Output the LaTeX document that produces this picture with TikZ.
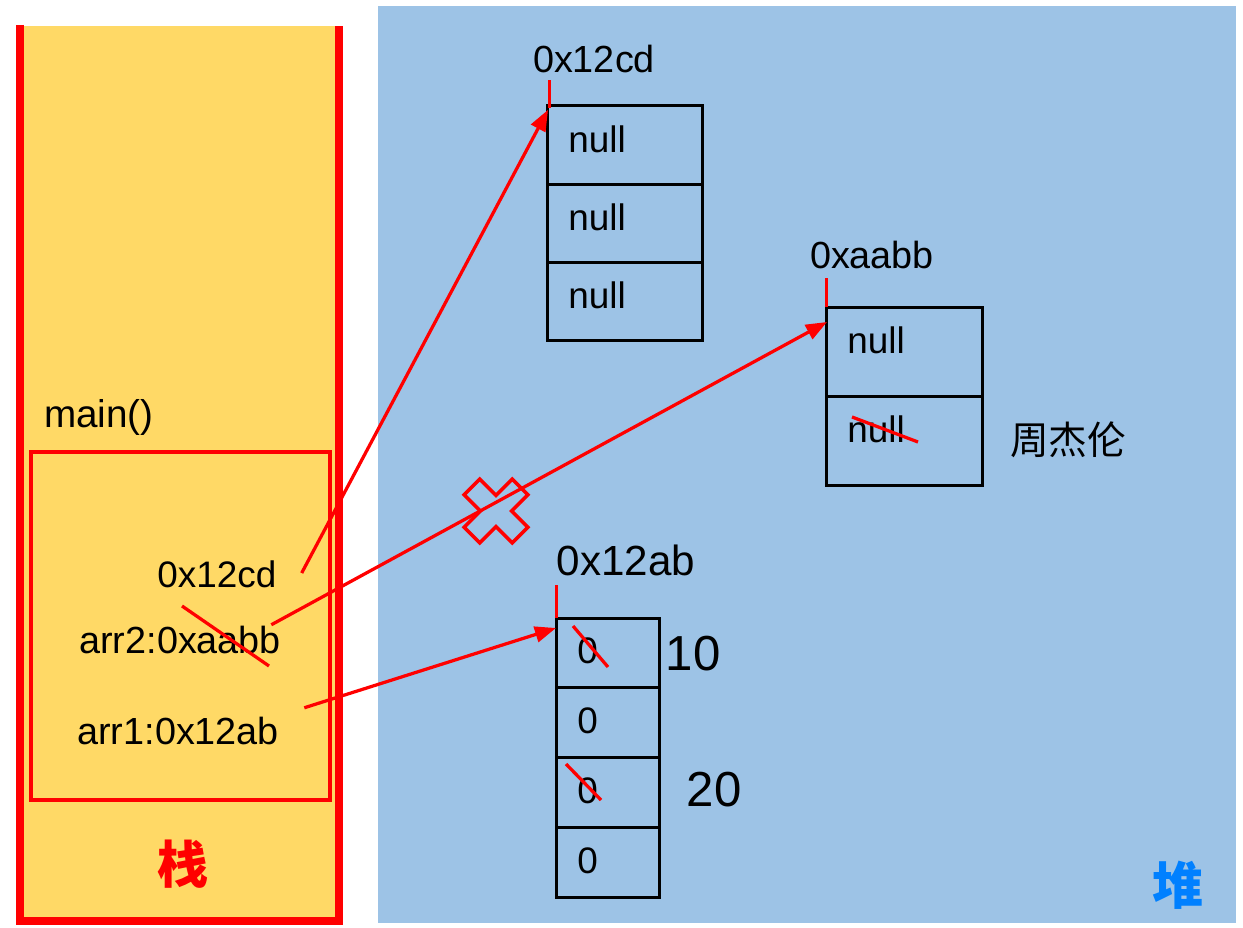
\documentclass[tikz,border=0pt]{standalone}
\usepackage{fontspec}
\setmainfont{Liberation Sans}
\newfontfamily\cjk{Noto Sans CJK SC}
\usepackage{xcolor}
\usepackage{tikz}
\usetikzlibrary{positioning, calc, arrows.meta}
\definecolor{stackyellow}{RGB}{255,217,102}
\definecolor{heapblue}{RGB}{157,195,230}
\definecolor{heaptext}{RGB}{0,128,255}

\begin{document}
\begin{tikzpicture}[x=0.02cm, y=-0.02cm, >={Triangle[length=12pt,width=9pt]},
  txt/.style={inner sep=0pt, font=\fontsize{21}{25}\selectfont},
  cell/.style 2 args={draw=black, line width=0.06cm, minimum width=#1, minimum height=#2, inner sep=0pt, outer sep=0pt},
  ptr/.style={->, red, line width=0.065cm},
  strike/.style={red, line width=0.065cm},
  tick/.style={red, line width=0.06cm}]
  \useasboundingbox (0,0) rectangle (1243,928);
  % Stack and heap areas
  \fill[stackyellow] (24,26) rectangle (335,918);
  \draw[red, line width=0.16cm] (20,25) -- (20,921) -- (339,921) -- (339,26);
  \fill[heapblue] (378,6) rectangle (1236,923);
  \draw[red, line width=0.07cm] (31,452) rectangle (330,800);
  % Stack frame
  \node[txt, font=\fontsize{22}{26}\selectfont] (main) at (99,417) {main()};
  \node[txt, anchor=west] (cd) at (157,574) {0x12cd};
  \node[txt, font=\fontsize{21.5}{26}\selectfont, anchor=west] (arr2) at (79,640) {arr2:0xaabb};
  \node[txt, font=\fontsize{21.5}{26}\selectfont, anchor=west] (arr1) at (77,731) {arr1:0x12ab};
  \node[font=\cjk\bfseries\fontsize{29}{32}\selectfont, text=red] (stack) at (183,864) {栈};
  % Heap arrays
  \node[cell={3.12cm}{1.567cm}] (a1) at (625,145) {};
  \node[cell={3.12cm}{1.567cm}, below=0pt of a1] (a2) {};
  \node[cell={3.12cm}{1.567cm}, below=0pt of a2] (a3) {};
  \node[cell={3.12cm}{1.79cm}] (b1) at (904,351.75) {};
  \node[cell={3.12cm}{1.79cm}, below=0pt of b1] (b2) {};
  \node[cell={2.06cm}{1.4cm}] (c1) at (607.5,653) {};
  \node[cell={2.06cm}{1.4cm}, below=0pt of c1] (c2) {};
  \node[cell={2.06cm}{1.4cm}, below=0pt of c2] (c3) {};
  \node[cell={2.06cm}{1.4cm}, below=0pt of c3] (c4) {};
  \foreach \c in {a1,a2,a3,b1,b2}
    \node[txt, anchor=west] (\c-val) at ($(\c.north west)+(21,33)$) {null};
  \foreach \c in {c1,c2,c3,c4}
    \node[txt, anchor=west] (\c-val) at ($(\c.north west)+(21,33)$) {0};
  % Addresses
  \node[txt, font=\fontsize{21.5}{25}\selectfont] (addrA) at (594,59) {0x12cd};
  \node[txt, font=\fontsize{21.5}{25}\selectfont] (addrB) at (872,255) {0xaabb};
  \node[txt, font=\fontsize{24}{28}\selectfont] (addrC) at (626,560) {0x12ab};
  \draw[tick] ($(a1.north west)+(2,2)$) -- ++(0,-28);
  \draw[tick] (b1.north west) -- ++(0,-29);
  \draw[tick] (c1.north west) -- ++(0,-33);
  % New values
  \node[txt, font=\fontsize{28}{32}\selectfont] (v10) at (693,654) {10};
  \node[txt, font=\fontsize{28}{32}\selectfont] (v20) at (714,790) {20};
  \node[txt, font=\cjk\fontsize{22}{26}\selectfont] (name) at (1068,440) {周杰伦};
  \node[font=\cjk\bfseries\fontsize{29}{32}\selectfont, text=heaptext] (heap) at (1178,885) {堆};
  % Crossed-out values
  \draw[strike] (182,606) -- (269,666);
  \draw[strike] (852,417) -- (918,442);
  \draw[strike] (573,626) -- (608,667);
  \draw[strike] (566,764) -- (601,800);
  % Cross mark
  \draw[red, line width=0.07cm, shift={(496,511)}, rotate=45]
    (11,34) -- (11,11) -- (34,11) -- (34,-11) -- (11,-11) -- (11,-34) -- (-11,-34)
    -- (-11,-11) -- (-34,-11) -- (-34,11) -- (-11,11) -- (-11,34) -- cycle;
  % References
  \draw[ptr] ($(cd.east)+(25,-1)$) -- ($(a1.north west)+(1,4)$);
  \draw[ptr] ($(arr2.north east)+(-10,-1)$) -- ($(b1.north west)+(1,15)$);
  \draw[ptr] ($(arr1.north east)+(25,-9)$) -- ($(c1.north west)+(0,10)$);
\end{tikzpicture}
\end{document}
